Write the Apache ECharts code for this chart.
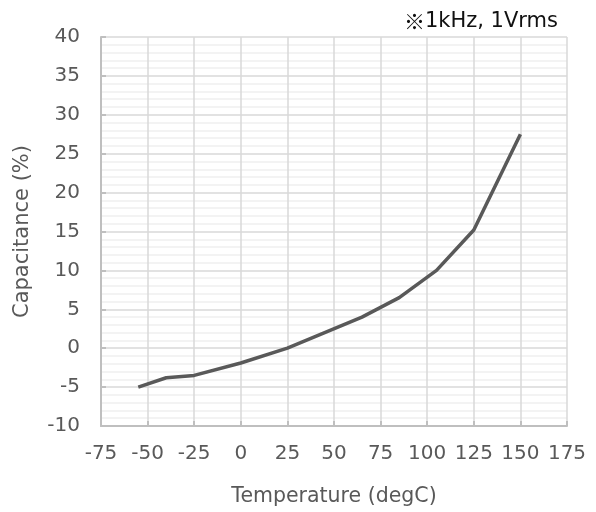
<!DOCTYPE html>
<html><head><meta charset="utf-8">
<script src="https://cdn.jsdelivr.net/npm/echarts@6/dist/echarts.min.js"></script>
<style>html,body{margin:0;padding:0;background:#fff}#c{width:596px;height:512px}</style>
</head><body><div id="c"></div>
<script>
var temps = [-55, -40, -25, 0, 25, 45, 65, 85, 105, 125, 150];
var capChange = [-5.0, -3.8, -3.5, -1.9, 0.0, 2.0, 4.0, 6.5, 10.0, 15.2, 27.5];
var xTicks = {min: -75, max: 175, step: 25};
var yTicks = {min: -10, max: 40, step: 5};
var noteMark = '※';
var noteText = '1kHz, 1Vrms';
var xName = 'Temperature (degC)';
var yName = 'Capacitance (%)';

var font = 'DejaVu Sans';
var chart = echarts.init(document.getElementById('c'), null, {renderer: 'canvas'});
chart.setOption({
  animation: false,
  backgroundColor: '#fff',
  title: {
    text: '{m|' + noteMark + '}{t|' + noteText + '}', right: 33, top: 6,
    textStyle: {
      fontWeight: 'normal',
      rich: {
        m: {fontFamily: 'Noto Sans CJK JP', fontSize: 21, fontWeight: 'normal', color: '#111'},
        t: {fontFamily: font, fontSize: 21, fontWeight: 'normal', color: '#111'}
      }
    }
  },
  grid: {left: 101, right: 29, top: 37, bottom: 85},
  xAxis: {
    type: 'value', min: xTicks.min, max: xTicks.max, interval: xTicks.step,
    name: xName, nameLocation: 'middle', nameGap: 60,
    nameTextStyle: {fontFamily: font, fontSize: 20.5, color: '#595959'},
    axisLine: {show: true, onZero: false, lineStyle: {color: '#bfbfbf', width: 2}},
    axisTick: {show: true, inside: true, length: 5, lineStyle: {color: '#bfbfbf', width: 2}},
    axisLabel: {fontFamily: font, fontSize: 20, color: '#595959', margin: 18},
    splitLine: {show: true, lineStyle: {color: '#d9d9d9', width: 1.5}}
  },
  yAxis: {
    type: 'value', min: yTicks.min, max: yTicks.max, interval: yTicks.step,
    name: yName, nameLocation: 'middle', nameGap: 68, nameRotate: 90,
    nameTextStyle: {fontFamily: font, fontSize: 21, color: '#595959'},
    axisLine: {show: true, onZero: false, lineStyle: {color: '#bfbfbf', width: 2}},
    axisTick: {show: true, inside: true, length: 5, lineStyle: {color: '#bfbfbf', width: 2}},
    axisLabel: {fontFamily: font, fontSize: 20, color: '#595959', margin: 21},
    splitLine: {show: true, lineStyle: {color: '#d9d9d9', width: 1.5}},
    minorTick: {show: false, splitNumber: 5},
    minorSplitLine: {show: true, lineStyle: {color: '#f0f0f0', width: 1.5}}
  },
  series: [{
    type: 'line', data: temps.map(function(t, i){ return [t, capChange[i]]; }),
    showSymbol: false, lineStyle: {color: '#595959', width: 3.5}
  }]
});
</script></body></html>
